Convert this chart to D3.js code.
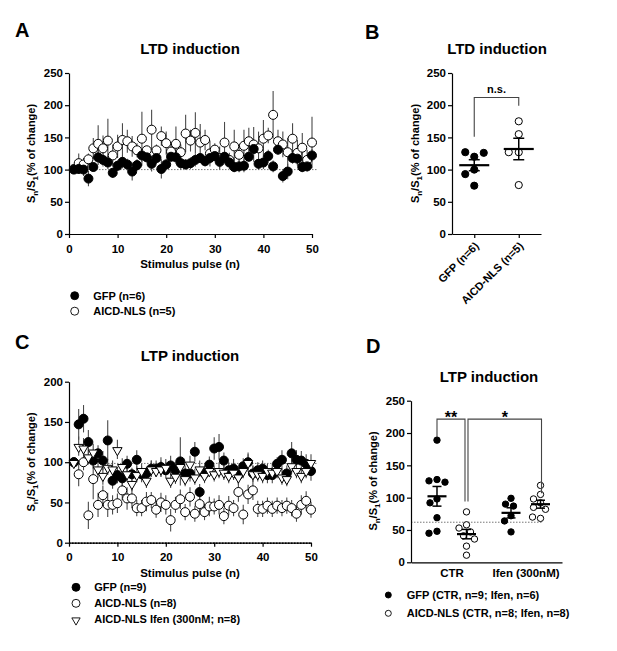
<!DOCTYPE html>
<html><head><meta charset="utf-8">
<script src="https://cdn.jsdelivr.net/npm/d3@7"></script>
<style>
body{margin:0;background:#fff}
svg{display:block}
text{font-family:"Liberation Sans",Arial,Helvetica,sans-serif;font-weight:bold;fill:#000}
</style></head>
<body><svg id="c" width="617" height="651"></svg>
<script>
// ---------------- DATA ----------------
const pulses = [1,2,3,4,5,6,7,8,9,10,11,12,13,14,15,16,17,18,19,20,21,22,23,24,25,26,27,28,29,30,31,32,33,34,35,36,37,38,39,40,41,42,43,44,45,46,47,48,49,50];
const pulseTicks = [0,10,20,30,40,50];

// Panel A: LTD induction time course
const ltdGfp = [100,101,100,86,104,119,115,111,95,106,112,108,97,107,122,119,109,118,101,108,120,119,110,108,110,115,118,113,118,121,112,120,111,104,105,106,120,132,109,111,121,105,131,90,97,118,117,104,105,122];
const ltdGfpErr = [2,8,10,12,7,12,10,10,8,8,10,9,14,9,10,8,12,9,15,9,8,10,10,8,9,10,7,8,9,8,10,9,10,8,9,10,8,7,9,10,10,9,8,10,12,9,10,8,8,10];
const ltdAicd = [101,110,108,116,133,140,133,145,122,136,146,144,136,130,148,130,162,130,152,141,128,140,127,156,145,157,142,146,125,131,118,142,115,136,123,137,144,139,133,148,153,185,144,139,127,148,126,134,115,142];
const ltdAicdErr = [3,15,10,9,16,29,20,34,17,18,26,18,16,11,42,7,31,9,15,18,13,27,12,29,17,32,29,16,20,10,18,32,11,26,16,25,21,27,26,29,12,37,18,20,22,24,20,23,16,40];
const ltdTicks = [0,50,100,150,200,250];

// Panel B: LTD summary
const ltdGroups = ["GFP (n=6)","AICD-NLS (n=5)"];
const ltdSumGfp = [120,127,126,100,93,75];
const ltdSumAicd = [175,155,127,127,76];
const ltdSig = {label:"n.s.", top:212, leftEnd:151, rightEnd:199};

// Panel C: LTP induction time course
const ltpGfp = [100,147,154,125,102,111,102,127,77,84,80,98,85,103,85,86,92,92,94,90,96,90,101,86,86,113,63,86,97,117,119,102,90,92,84,95,100,86,90,92,84,84,98,103,86,111,103,102,98,89];
const ltpGfpErr = [2,19,17,15,10,10,12,25,10,10,12,10,8,12,10,8,10,10,12,10,12,10,30,10,10,12,10,10,10,14,16,10,10,12,10,10,12,10,10,10,10,10,8,12,10,14,12,12,12,12];
const ltpAicd = [100,85,100,34,79,47,59,47,47,49,65,55,55,43,43,51,53,41,50,47,28,47,54,38,57,36,48,38,45,45,47,33,46,43,63,35,60,65,42,42,46,42,46,43,46,43,36,47,52,41];
const ltpAicdErr = [2,15,10,17,25,15,12,15,12,12,12,14,12,10,10,12,10,10,12,12,14,10,12,10,12,10,12,10,12,10,12,10,12,10,12,12,12,12,10,10,10,10,10,10,10,10,10,12,12,10];
const ltpIfen = [100,120,118,107,113,92,84,94,92,116,95,86,74,85,90,78,92,90,92,94,78,83,95,80,98,82,92,84,90,86,90,88,84,88,82,90,100,86,86,84,90,88,90,82,80,96,90,84,90,100];
const ltpIfenErr = [2,12,12,10,10,12,12,10,10,12,10,10,10,10,8,10,10,8,10,10,10,10,10,10,10,10,10,10,8,10,10,10,10,10,10,10,10,10,10,10,8,10,10,10,10,10,10,10,10,10];
const ltpTicks = [0,50,100,150,200];

// Panel D: LTP summary
const conditions = ["CTR","Ifen (300nM)"];
const genotypes = ["GFP","AICD-NLS"];
const ltpSumGfpCtr = [189,128,126,124,98,92,69,48,45];
const ltpSumAicdCtr = [78,58,53,47,41,36,25,11];
const ltpSumGfpIfen = [99,90,87,72,64,47];
const ltpSumAicdIfen = [119,105,98,92,85,82,68,70];
const ltpSumTicks = [0,50,100,150,200,250];
const ltpSig = [
  {label:"**", from:"CTR|GFP", to:"CTR|AICD-NLS", top:221.5, leftEnd:194, rightEnd:94},
  {label:"*", from:"CTR|AICD-NLS", to:"Ifen (300nM)|AICD-NLS", top:221.5, leftEnd:94, rightEnd:107}
];

// ---------------- HELPERS ----------------
const FONT = '"Liberation Sans",Arial,Helvetica,sans-serif';
const svg = d3.select("#c");

function styleAxis(g, fs){
  g.select(".domain").attr("stroke","#000").attr("stroke-width",1.2);
  g.selectAll(".tick line").attr("stroke","#000").attr("stroke-width",1.2);
  g.selectAll(".tick text").attr("font-size",fs||11.5).attr("font-weight","bold")
    .attr("font-family",FONT).attr("fill","#000");
}
function leftAxis(y, x0, ticks){
  const g = svg.append("g").attr("transform",`translate(${x0},0)`)
    .call(d3.axisLeft(y).tickValues(ticks).tickSize(4).tickPadding(2).tickSizeOuter(0));
  styleAxis(g); return g;
}
function yLabel(cx, cy){
  const t = svg.append("text").attr("transform",`translate(${cx},${cy}) rotate(-90)`)
    .attr("text-anchor","middle").attr("font-size",11);
  t.append("tspan").text("S");
  t.append("tspan").text("n").attr("font-size",8).attr("dy",3);
  t.append("tspan").text("/S").attr("dy",-3);
  t.append("tspan").text("1").attr("font-size",8).attr("dy",3);
  t.append("tspan").text("(% of change)").attr("dy",-3);
}
function textAt(x,y,s,fs,anchor){
  return svg.append("text").attr("x",x).attr("y",y).attr("font-size",fs)
    .attr("text-anchor",anchor||"middle").text(s);
}
function dotted(x1,x2,yy,color,w){
  svg.append("line").attr("x1",x1).attr("x2",x2).attr("y1",yy).attr("y2",yy)
    .attr("stroke",color||"#777").attr("stroke-width",w||1).attr("stroke-dasharray","1.5,1.5");
}
function errBars(layer, x, y, xs, vals, errs){
  layer.selectAll(null).data(vals).enter().append("line")
    .attr("x1",(d,i)=>x(xs[i])).attr("x2",(d,i)=>x(xs[i]))
    .attr("y1",(d,i)=>y(d+errs[i])).attr("y2",(d,i)=>y(d-errs[i]))
    .attr("stroke","#4a4a4a").attr("stroke-width",1.1);
}
function circles(layer, x, y, xs, vals, filled, r){
  layer.selectAll(null).data(vals).enter().append("circle")
    .attr("cx",(d,i)=>x(xs[i])).attr("cy",d=>y(d)).attr("r",r)
    .attr("fill",filled?"#000":"#fff").attr("stroke","#000").attr("stroke-width",1);
}
const triSym = d3.symbol().type(d3.symbolTriangle).size(38);
function triangles(layer, x, y, xs, vals){
  layer.selectAll(null).data(vals).enter().append("path")
    .attr("d",triSym)
    .attr("transform",(d,i)=>`translate(${x(xs[i])},${y(d)+1}) rotate(180)`)
    .attr("fill","#fff").attr("stroke","#000").attr("stroke-width",1);
}
// simple beeswarm: returns horizontal offsets
function swarm(vals, y, r){
  const placed = [];
  return vals.map(v=>{
    const py = y(v);
    let dx = 0;
    for(let k=0;k<80;k++){
      const cands = k===0?[0]:[-k*0.5,k*0.5];
      let ok=null;
      for(const c of cands){
        if(placed.every(p=>(p[0]-c)**2+(p[1]-py)**2 >= (2*r)**2)){ok=c;break;}
      }
      if(ok!==null){dx=ok;break;}
    }
    placed.push([dx,py]);
    return dx;
  });
}
function scatterGroup(cx, vals, y, filled, r, meanHalf, capHalf, swarmR){
  const offs = swarm(vals, y, swarmR);
  const g = svg.append("g");
  g.selectAll(null).data(vals).enter().append("circle")
    .attr("cx",(d,i)=>cx+offs[i]).attr("cy",d=>y(d)).attr("r",r)
    .attr("fill",filled?"#000":"#fff").attr("stroke","#000").attr("stroke-width",1);
  const m = d3.mean(vals), sem = d3.deviation(vals)/Math.sqrt(vals.length);
  g.append("line").attr("x1",cx).attr("x2",cx).attr("y1",y(m+sem)).attr("y2",y(m-sem))
    .attr("stroke","#000").attr("stroke-width",1.5);
  [m+sem,m-sem].forEach(v=>g.append("line").attr("x1",cx-capHalf).attr("x2",cx+capHalf)
    .attr("y1",y(v)).attr("y2",y(v)).attr("stroke","#000").attr("stroke-width",1.5));
  g.append("line").attr("x1",cx-meanHalf).attr("x2",cx+meanHalf).attr("y1",y(m)).attr("y2",y(m))
    .attr("stroke","#000").attr("stroke-width",2.2);
}
function bracket(xl, xr, y, top, le, re){
  svg.append("path").attr("d",`M${xl},${y(le)}V${y(top)}H${xr}V${y(re)}`)
    .attr("fill","none").attr("stroke","#444").attr("stroke-width",1.1);
}
function legend(x, y0, dy, items, fs, r){
  items.forEach((it,i)=>{
    const yy = y0 + i*dy;
    if(it.kind==="tri"){
      svg.append("path").attr("d",d3.symbol().type(d3.symbolTriangle).size(30))
        .attr("transform",`translate(${x},${yy+1}) rotate(180)`)
        .attr("fill","#fff").attr("stroke","#000").attr("stroke-width",0.9);
    } else {
      svg.append("circle").attr("cx",x).attr("cy",yy).attr("r",r)
        .attr("fill",it.kind==="filled"?"#000":"#fff").attr("stroke","#000").attr("stroke-width",0.9);
    }
    textAt(x+it.gap, yy+4, it.label, fs, "start");
  });
}

// ---------------- PANEL A ----------------
textAt(15,37,"A",20,"start");
textAt(190,54,"LTD induction",15);
const xA = d3.scaleLinear().domain([0,50]).range([69,312]);
const yA = d3.scaleLinear().domain([0,250]).range([234,73]);
dotted(xA(0), xA(51.2), yA(100));
{
  const g = svg.append("g").attr("transform",`translate(0,${yA(0)})`)
    .call(d3.axisBottom(xA).tickValues(pulseTicks).tickSize(4).tickPadding(7).tickSizeOuter(0));
  styleAxis(g);
}
leftAxis(yA, 69, ltdTicks);
yLabel(35, 153.5);
textAt(190,268,"Stimulus pulse (n)",11.5);
{
  const eb = svg.append("g"), mk = svg.append("g");
  errBars(eb, xA, yA, pulses, ltdAicd, ltdAicdErr);
  errBars(eb, xA, yA, pulses, ltdGfp, ltdGfpErr);
  circles(mk, xA, yA, pulses, ltdAicd, false, 4.5);
  circles(mk, xA, yA, pulses, ltdGfp, true, 4.5);
}
legend(74.7, 295.7, 15.5, [
  {kind:"filled", label:"GFP (n=6)", gap:18.5},
  {kind:"open", label:"AICD-NLS (n=5)", gap:18.5}
], 11, 4);

// ---------------- PANEL B ----------------
textAt(365,39,"B",20,"start");
textAt(497,54,"LTD induction",15);
const xB = d3.scalePoint().domain(ltdGroups).range([452,541]).padding(0.5);
const yB = d3.scaleLinear().domain([0,250]).range([234,73]);
{
  const g = svg.append("g").attr("transform",`translate(0,${yB(0)})`)
    .call(d3.axisBottom(xB).tickSize(4).tickSizeOuter(0));
  styleAxis(g, 11);
  g.selectAll(".tick text").attr("y",0).attr("dy","0.35em")
    .attr("transform","translate(2,10) rotate(-45)").attr("text-anchor","end");
}
leftAxis(yB, 452, ltdTicks);
yLabel(419, 153.5);
scatterGroup(xB(ltdGroups[0]), ltdSumGfp, yB, true, 3.6, 15, 5.5, 5);
scatterGroup(xB(ltdGroups[1]), ltdSumAicd, yB, false, 3.6, 15, 5.5, 5);
bracket(xB(ltdGroups[0]), xB(ltdGroups[1]), yB, ltdSig.top, ltdSig.leftEnd, ltdSig.rightEnd);
textAt((xB(ltdGroups[0])+xB(ltdGroups[1]))/2, yB(ltdSig.top)-4, ltdSig.label, 11);

// ---------------- PANEL C ----------------
textAt(15,349,"C",20,"start");
textAt(190,361,"LTP induction",15);
const xC = d3.scaleLinear().domain([0,50]).range([69,311]);
const yC = d3.scaleLinear().domain([0,200]).range([542.7,381.7]);
dotted(xC(0), xC(51.2), yC(98.5));
{
  const g = svg.append("g").attr("transform",`translate(0,${yC(0)})`)
    .call(d3.axisBottom(xC).tickValues(pulseTicks).tickSize(4).tickPadding(6).tickSizeOuter(0));
  styleAxis(g);
}
leftAxis(yC, 69, ltpTicks);
dotted(xC(0), xC(50), yC(0)+0.5, "#000", 1.6);
yLabel(35, 462);
textAt(190,577,"Stimulus pulse (n)",11.5);
{
  const eb = svg.append("g"), mk = svg.append("g");
  errBars(eb, xC, yC, pulses, ltpAicd, ltpAicdErr);
  errBars(eb, xC, yC, pulses, ltpGfp, ltpGfpErr);
  errBars(eb, xC, yC, pulses, ltpIfen, ltpIfenErr);
  circles(mk, xC, yC, pulses, ltpAicd, false, 4.5);
  circles(mk, xC, yC, pulses, ltpGfp, true, 4.5);
  triangles(mk, xC, yC, pulses, ltpIfen);
}
legend(76, 587.3, 16, [
  {kind:"filled", label:"GFP (n=9)", gap:18.3},
  {kind:"open", label:"AICD-NLS (n=8)", gap:18.3},
  {kind:"tri", label:"AICD-NLS Ifen (300nM; n=8)", gap:18.3}
], 11, 4);

// ---------------- PANEL D ----------------
textAt(366,353,"D",20,"start");
textAt(489,382,"LTP induction",15);
const xD = d3.scalePoint().domain(conditions).range([411,562]).padding(0.52).align(0.526);
const xInner = d3.scalePoint().domain(genotypes).range([-14.5,15]);
const yD = d3.scaleLinear().domain([0,250]).range([562.3,400.7]);
const pos = key => { const [c,gt] = key.split("|"); return xD(c)+xInner(gt); };
dotted(411, pos("Ifen (300nM)|AICD-NLS")+2, yD(62));
{
  const g = svg.append("g").attr("transform",`translate(0,${yD(0)})`)
    .call(d3.axisBottom(xD).tickSize(0).tickPadding(7).tickSizeOuter(0));
  styleAxis(g);
}
leftAxis(yD, 411, ltpSumTicks);
yLabel(377, 481);
scatterGroup(pos("CTR|GFP"), ltpSumGfpCtr, yD, true, 3.2, 9.5, 4.5, 4);
scatterGroup(pos("CTR|AICD-NLS"), ltpSumAicdCtr, yD, false, 3.2, 9.5, 4.5, 4);
scatterGroup(pos("Ifen (300nM)|GFP"), ltpSumGfpIfen, yD, true, 3.2, 9.5, 4.5, 4);
scatterGroup(pos("Ifen (300nM)|AICD-NLS"), ltpSumAicdIfen, yD, false, 3.2, 9.5, 4.5, 4);
ltpSig.forEach((s,i)=>{
  const xl = pos(s.from) + (i===0?0:1.5);
  const xr = pos(s.to) + (i===0?-1.5:1);
  bracket(xl, xr, yD, s.top, s.leftEnd, s.rightEnd);
  textAt((xl+xr)/2, yD(s.top)+4, s.label, 16);
});
legend(388.3, 595, 18.3, [
  {kind:"filled", label:"GFP (CTR, n=9; Ifen, n=6)", gap:18.5},
  {kind:"open", label:"AICD-NLS (CTR, n=8; Ifen, n=8)", gap:18.5}
], 11, 3);
</script>
</body></html>
